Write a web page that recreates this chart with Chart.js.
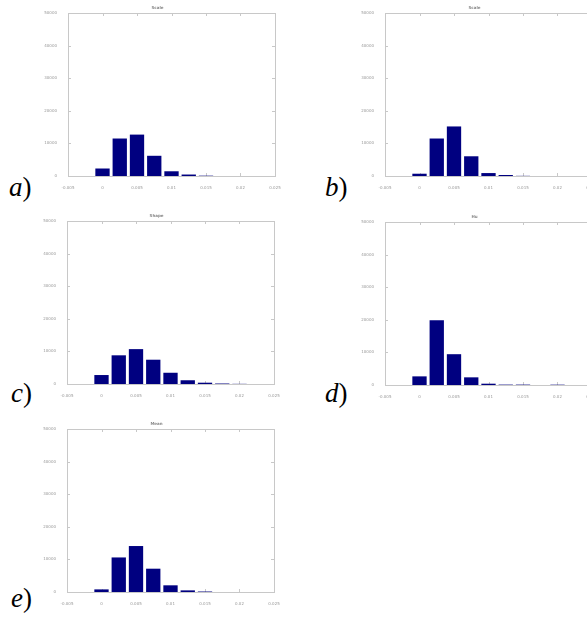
<!DOCTYPE html>
<html>
<head>
<meta charset="utf-8">
<script src="https://cdn.jsdelivr.net/npm/chart.js@4.4.0/dist/chart.umd.min.js"></script>
<style>
  html, body { margin: 0; padding: 0; background: #fff; overflow: hidden; }
  body { width: 587px; height: 619px; position: relative; }
  canvas { position: absolute; }
  .lab { position: absolute; font-family: "Liberation Serif", "Times New Roman", serif; font-style: italic; font-size: 27px; line-height: 27px; color: #000; }
  .lab span { font-style: normal; }
</style>
</head>
<body>
<div class="lab" style="left:9px;top:174px">a<span>)</span></div>
<div class="lab" style="left:325px;top:174px">b<span>)</span></div>
<div class="lab" style="left:11px;top:380px">c<span>)</span></div>
<div class="lab" style="left:325px;top:380px">d<span>)</span></div>
<div class="lab" style="left:11px;top:585px">e<span>)</span></div>
<canvas id="pa"></canvas>
<canvas id="pb"></canvas>
<canvas id="pc"></canvas>
<canvas id="pd"></canvas>
<canvas id="pe"></canvas>
<script>
// histogram bins (bin centres) and counts per panel
const binCenters = [0, 0.0025, 0.005, 0.0075, 0.01, 0.0125, 0.015, 0.0175, 0.02];
const countsA = [2300, 11500, 12700, 6200, 1450, 450, 100, 0, 0];
const countsB = [700, 11500, 15200, 6050, 900, 300, 50, 0, 0];
const countsC = [2750, 8800, 10700, 7450, 3450, 1150, 400, 150, 50];
const countsD = [2650, 19900, 9450, 2350, 400, 120, 120, 0, 100];
const countsE = [800, 10600, 14100, 7150, 2050, 500, 150, 0, 0];

const xTickLabels = ['-0.005', '0', '0.005', '0.01', '0.015', '0.02', '0.025'];
const yTickLabels = ['0', '10000', '20000', '30000', '40000', '50000'];
const titles = ['Scale', 'Scale', 'Shape', 'Hu', 'Mean'];

// inward tick marks (under the bars) and frame, matplotlib style
const framePlugin = {
    id: 'frame',
    beforeDatasetsDraw(chart) {
        const c = chart.ctx, a = chart.chartArea;
        const xs = chart.scales.x, ys = chart.scales.y;
        c.save();
        c.strokeStyle = '#c8c8c8';
        c.lineWidth = 1;
        c.beginPath();
        xs.ticks.forEach(t => {
            const px = Math.round(xs.getPixelForValue(t.value)) + 0.5;
            c.moveTo(px, a.bottom); c.lineTo(px, a.bottom - 3);
            c.moveTo(px, a.top); c.lineTo(px, a.top + 3);
        });
        ys.ticks.forEach(t => {
            const py = Math.round(ys.getPixelForValue(t.value)) + 0.5;
            c.moveTo(a.left, py); c.lineTo(a.left + 3, py);
            c.moveTo(a.right, py); c.lineTo(a.right - 3, py);
        });
        c.stroke();
        c.restore();
    },
    afterDraw(chart) {
        const c = chart.ctx, a = chart.chartArea;
        c.save();
        c.strokeStyle = '#c8c8c8';
        c.lineWidth = 1;
        c.strokeRect(Math.round(a.left) + 0.5, Math.round(a.top) + 0.5, Math.round(a.right - a.left), Math.round(a.bottom - a.top));
        c.restore();
    }
};

const YW = 28, XH = 14, TH = 10, PW = 207, PH = 163, RP = 10;

function panel(id, counts, title, plotLeft, plotTop) {
    const cv = document.getElementById(id);
    cv.width = YW + PW + RP;
    cv.height = TH + PH + XH;
    cv.style.left = (plotLeft - YW) + 'px';
    cv.style.top = (plotTop - TH) + 'px';
    new Chart(cv.getContext('2d'), {
        type: 'bar',
        data: {
            datasets: [{
                data: binCenters.map((x, i) => ({ x: x, y: counts[i] })),
                backgroundColor: '#000080',
                borderWidth: 0,
                barPercentage: 0.83,
                categoryPercentage: 1
            }]
        },
        options: {
            responsive: false,
            animation: false,
            devicePixelRatio: 1,
            layout: { padding: { left: 0, right: RP, top: 0, bottom: 0 } },
            plugins: {
                legend: { display: false },
                tooltip: { enabled: false },
                title: {
                    display: true,
                    text: title,
                    color: '#888',
                    font: { size: 4, family: 'DejaVu Sans', lineHeight: 1 },
                    padding: { top: 3, bottom: 3 }
                }
            },
            scales: {
                x: {
                    type: 'linear',
                    offset: false,
                    min: -0.005,
                    max: 0.025,
                    grid: { display: false },
                    border: { display: false },
                    ticks: {
                        stepSize: 0.005,
                        autoSkip: false,
                        maxRotation: 0,
                        padding: 2,
                        color: '#999',
                        font: { size: 4, family: 'DejaVu Sans' },
                        callback: (v, i) => xTickLabels[i]
                    },
                    afterFit: s => { s.height = XH; }
                },
                y: {
                    min: 0,
                    max: 50000,
                    grid: { display: false },
                    border: { display: false },
                    ticks: {
                        stepSize: 10000,
                        padding: 3,
                        color: '#999',
                        font: { size: 4, family: 'DejaVu Sans' },
                        callback: (v, i) => yTickLabels[i]
                    },
                    afterFit: s => { s.width = YW; }
                }
            }
        },
        plugins: [framePlugin]
    });
}

panel('pa', countsA, titles[0], 68, 13);
panel('pb', countsB, titles[1], 385, 13);
panel('pc', countsC, titles[2], 67, 221);
panel('pd', countsD, titles[3], 385, 222);
panel('pe', countsE, titles[4], 67, 429);
</script>
</body>
</html>
